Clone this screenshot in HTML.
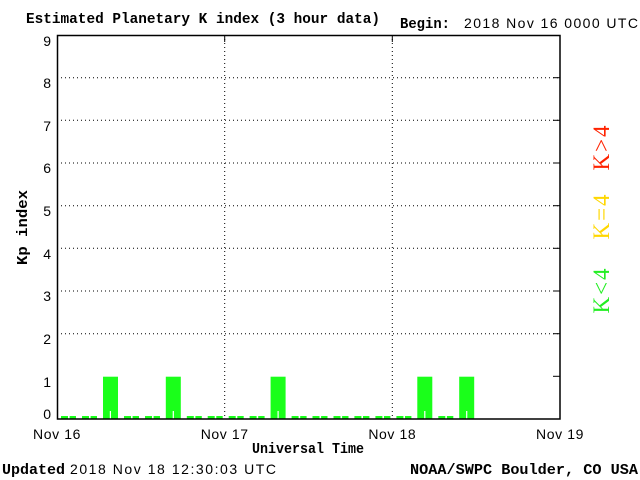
<!DOCTYPE html>
<html><head><meta charset="utf-8"><style>
html,body{margin:0;padding:0;background:#fff;}
svg{display:block;}
.s{font-family:"Liberation Sans",sans-serif;font-size:14px;fill:#000;}
.b{font-family:"Liberation Mono",monospace;font-weight:bold;font-size:14.3px;fill:#000;}
</style></head><body>
<svg width="640" height="480" viewBox="0 0 640 480" xmlns="http://www.w3.org/2000/svg">
<rect width="640" height="480" fill="#fff"/>
<text x="26" y="23" class="b" textLength="354" lengthAdjust="spacingAndGlyphs">Estimated Planetary K index (3 hour data)</text>
<text x="400" y="28" class="b" textLength="50" lengthAdjust="spacingAndGlyphs">Begin:</text>
<text x="464" y="28" class="s" textLength="174" lengthAdjust="spacing">2018 Nov 16 0000 UTC</text>
<g stroke="#000" stroke-width="1" stroke-dasharray="1,3">
<line x1="57" y1="77.7" x2="560" y2="77.7"/>
<line x1="57" y1="120.3" x2="560" y2="120.3"/>
<line x1="57" y1="163" x2="560" y2="163"/>
<line x1="57" y1="205.7" x2="560" y2="205.7"/>
<line x1="57" y1="248.3" x2="560" y2="248.3"/>
<line x1="57" y1="291" x2="560" y2="291"/>
<line x1="57" y1="333.7" x2="560" y2="333.7"/>
<line x1="224.7" y1="35" x2="224.7" y2="419"/>
<line x1="392.3" y1="35" x2="392.3" y2="419"/>
</g>
<g fill="#1aff1a">
<rect x="61" y="416" width="15" height="3"/>
<rect x="82" y="416" width="15" height="3"/>
<rect x="103" y="376.7" width="15" height="42.3"/>
<rect x="124" y="416" width="15" height="3"/>
<rect x="145" y="416" width="15" height="3"/>
<rect x="165.8" y="376.7" width="15" height="42.3"/>
<rect x="186.8" y="416" width="15" height="3"/>
<rect x="207.7" y="416" width="15" height="3"/>
<rect x="228.7" y="416" width="15" height="3"/>
<rect x="249.6" y="416" width="15" height="3"/>
<rect x="270.6" y="376.7" width="15" height="42.3"/>
<rect x="291.6" y="416" width="15" height="3"/>
<rect x="312.5" y="416" width="15" height="3"/>
<rect x="333.5" y="416" width="15" height="3"/>
<rect x="354.4" y="416" width="15" height="3"/>
<rect x="375.4" y="416" width="15" height="3"/>
<rect x="396.4" y="416" width="15" height="3"/>
<rect x="417.3" y="376.7" width="15" height="42.3"/>
<rect x="438.3" y="416" width="15" height="3"/>
<rect x="459.2" y="376.7" width="15" height="42.3"/>
</g>
<g fill="#fff">
<rect x="68" y="416" width="1.6" height="3"/>
<rect x="89" y="416" width="1.6" height="3"/>
<rect x="109.8" y="411" width="1.2" height="8"/>
<rect x="131" y="416" width="1.6" height="3"/>
<rect x="152" y="416" width="1.6" height="3"/>
<rect x="172.7" y="411" width="1.2" height="8"/>
<rect x="193.8" y="416" width="1.6" height="3"/>
<rect x="214.7" y="416" width="1.6" height="3"/>
<rect x="235.7" y="416" width="1.6" height="3"/>
<rect x="256.6" y="416" width="1.6" height="3"/>
<rect x="277.5" y="411" width="1.2" height="8"/>
<rect x="298.6" y="416" width="1.6" height="3"/>
<rect x="319.5" y="416" width="1.6" height="3"/>
<rect x="340.5" y="416" width="1.6" height="3"/>
<rect x="361.4" y="416" width="1.6" height="3"/>
<rect x="382.4" y="416" width="1.6" height="3"/>
<rect x="403.4" y="416" width="1.6" height="3"/>
<rect x="424.2" y="411" width="1.2" height="8"/>
<rect x="445.3" y="416" width="1.6" height="3"/>
<rect x="466.1" y="411" width="1.2" height="8"/>
</g>
<rect x="57.5" y="35.5" width="502.5" height="383.5" fill="none" stroke="#000" stroke-width="1.5"/>
<g stroke="#000" stroke-width="1">
<line x1="553" y1="77.7" x2="560" y2="77.7"/><line x1="553" y1="120.3" x2="560" y2="120.3"/>
<line x1="553" y1="163" x2="560" y2="163"/><line x1="553" y1="205.7" x2="560" y2="205.7"/>
<line x1="553" y1="248.3" x2="560" y2="248.3"/><line x1="553" y1="291" x2="560" y2="291"/>
<line x1="553" y1="333.7" x2="560" y2="333.7"/><line x1="553" y1="376.3" x2="560" y2="376.3"/>
<line x1="224.7" y1="35" x2="224.7" y2="42"/><line x1="392.3" y1="35" x2="392.3" y2="42"/>
</g>
<g class="s" text-anchor="end" font-size="15">
<text x="51" y="46">9</text><text x="51" y="88">8</text><text x="51" y="131">7</text>
<text x="51" y="173">6</text><text x="51" y="216">5</text><text x="51" y="259">4</text>
<text x="51" y="301">3</text><text x="51" y="344">2</text><text x="51" y="387">1</text>
<text x="51" y="419">0</text>
</g>
<g class="s" text-anchor="middle" letter-spacing="0.6">
<text x="57" y="439">Nov 16</text><text x="224.7" y="439">Nov 17</text>
<text x="392.3" y="439">Nov 18</text><text x="560" y="439">Nov 19</text>
</g>
<text x="252" y="453" class="b" textLength="112" lengthAdjust="spacingAndGlyphs">Universal Time</text>
<text transform="translate(27,265) rotate(-90)" class="b" textLength="75" lengthAdjust="spacingAndGlyphs">Kp index</text>
<text x="2" y="474" class="b" textLength="63" lengthAdjust="spacingAndGlyphs">Updated</text>
<text x="70" y="474" class="s" textLength="206" lengthAdjust="spacing">2018 Nov 18 12:30:03 UTC</text>
<text x="410" y="474" class="b" textLength="228" lengthAdjust="spacingAndGlyphs">NOAA/SWPC Boulder, CO USA</text>
<g font-family="Liberation Serif,serif" font-size="23" text-anchor="middle">
<text transform="translate(609,147) rotate(-90)" fill="#ff2200" letter-spacing="2">K&gt;4</text>
<text transform="translate(609,216) rotate(-90)" fill="#ffd700" letter-spacing="2">K=4</text>
<text transform="translate(609,290) rotate(-90)" fill="#22ee22" letter-spacing="2">K&lt;4</text>
</g>
</svg>
</body></html>
